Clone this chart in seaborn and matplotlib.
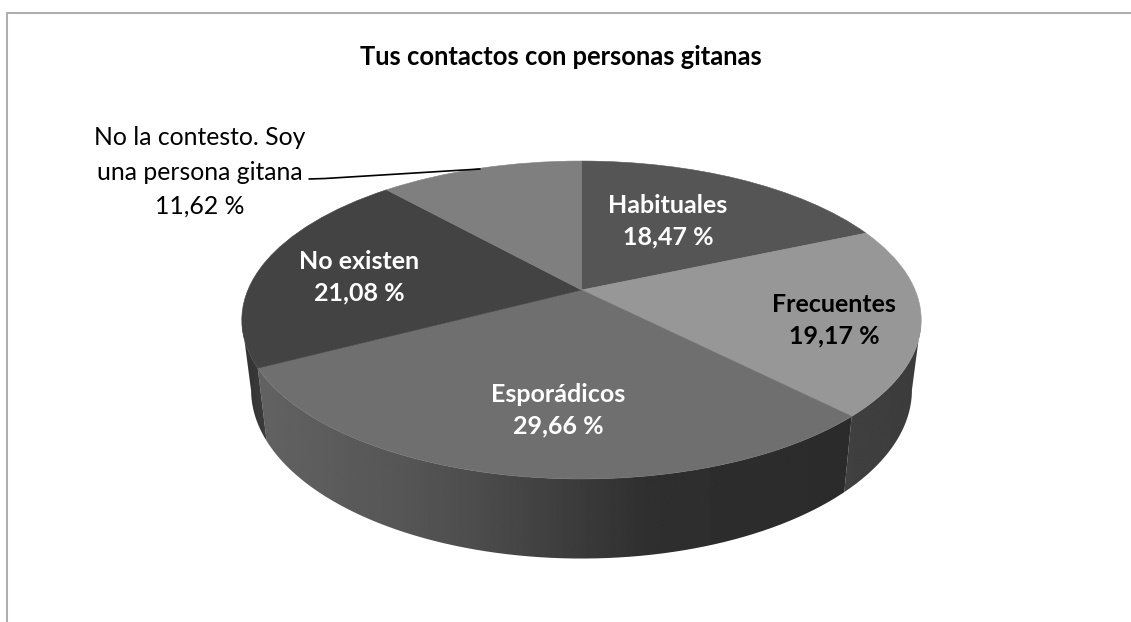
import numpy as np
import seaborn as sns
import matplotlib
matplotlib.use("Agg")
import matplotlib.pyplot as plt
from matplotlib.patches import PathPatch
from matplotlib.path import Path
from matplotlib.transforms import Transform

# ---- data ----
TITLE = "Tus contactos con personas gitanas"
categories = ["Habituales", "Frecuentes", "Esporádicos", "No existen",
              "No la contesto. Soy\nuna persona gitana"]
values = [18.47, 19.17, 29.66, 21.08, 11.62]
top_greys = ["#555555", "#979797", "#6f6f6f", "#434343", "#7f7f7f"]
label_colors = ["white", "black", "white", "white", "black"]

sns.set_theme(style="white")
plt.rcParams["font.family"] = ["Lato", "DejaVu Sans"]
palette = sns.color_palette(top_greys)

W, H = 1131, 622
fig = plt.figure(figsize=(W / 100, H / 100), dpi=100, facecolor="white")
ax = fig.add_axes([0, 0, 1, 1])


class Tilt(Transform):
    """Perspective view of a unit-circle plane onto the picture."""
    input_dims = output_dims = 2
    is_separable = False
    has_inverse = False

    def __init__(self, cx, cy, kx, ky, c):
        super().__init__()
        self.p = (cx, cy, kx, ky, c)

    def transform_non_affine(self, xy):
        cx, cy, kx, ky, c = self.p
        xy = np.asarray(xy, float)
        den = c * xy[:, 1] + 1
        return np.column_stack([cx + kx * xy[:, 0] / den,
                                cy - ky * xy[:, 1] / den])


top_plane = Tilt(581.5, 290, 333.6, 153.3, 0.1887)
bottom_plane = Tilt(581.5, 358, 324.5, 162.7, 0.1887)

wedges, _ = ax.pie(values, colors=palette, startangle=90, counterclock=False,
                   labeldistance=None, wedgeprops=dict(linewidth=0.4))
ax.set_aspect("auto")
for w, col in zip(wedges, palette):
    w.set_edgecolor(col)
    w.set_transform(top_plane + ax.transData)
    w.set_zorder(2)

# side wall, split at the slice boundaries
cum = np.cumsum(values) / sum(values) * 360


def wall(t0, t1, xs, gs):
    t = np.radians(np.linspace(t0, t1, 200))
    uv = np.column_stack([np.sin(t), np.cos(t)])
    a = top_plane.transform(uv)
    b = bottom_plane.transform(uv)
    outline = np.vstack([a, b[::-1], a[:1]])
    x0, x1 = outline[:, 0].min(), outline[:, 0].max()
    y0, y1 = outline[:, 1].min(), outline[:, 1].max()
    ramp = np.interp(np.linspace(x0, x1, 400), xs, gs)[None, :]
    im = ax.imshow(ramp, extent=(x0, x1, y1, y0), aspect="auto", cmap="gray",
                   vmin=0, vmax=255, interpolation="bilinear", zorder=1)
    clip = PathPatch(Path(outline), transform=ax.transData, fc="none", ec="none")
    ax.add_patch(clip)
    im.set_clip_path(clip)


wall(100.9, cum[1], [850, 920], [64, 60])
wall(cum[1], cum[2], [259, 400, 480, 560, 650, 850], [98, 86, 76, 62, 47, 43])
wall(cum[2], 259.1, [243, 265], [50, 60])

ax.set_xlim(0, W)
ax.set_ylim(H, 0)
ax.axis("off")

# chart frame
ax.plot([6.5, 6.5, W], [H, 12.5, 12.5], color="#aeaeae", lw=1.45, zorder=0.5,
        solid_joinstyle="miter", clip_on=False)

# title
ax.text(561, 57, TITLE, ha="center", va="center", fontsize=18.4,
        fontweight="bold", color="black", zorder=5)

# labels
positions = [(668, 221), (834, 320), (558, 410), (359, 277), (200, 172)]
for name, val, col, (x, y), bold in zip(categories, values, label_colors,
                                        positions,
                                        [True, True, True, True, False]):
    txt = name + "\n" + f"{val:.2f}".replace(".", ",") + " %"
    ax.text(x, y, txt, ha="center", va="center", color=col,
            fontsize=18 if bold else 17.8,
            fontweight="bold" if bold else "normal",
            linespacing=1.455 if bold else 1.6,
            multialignment="center", zorder=5)

# leader line of the last label
ax.plot([309, 325, 480], [179, 178.5, 169], color="black", lw=1.2, zorder=5)

fig.savefig("out.png", dpi=100, facecolor="white")
